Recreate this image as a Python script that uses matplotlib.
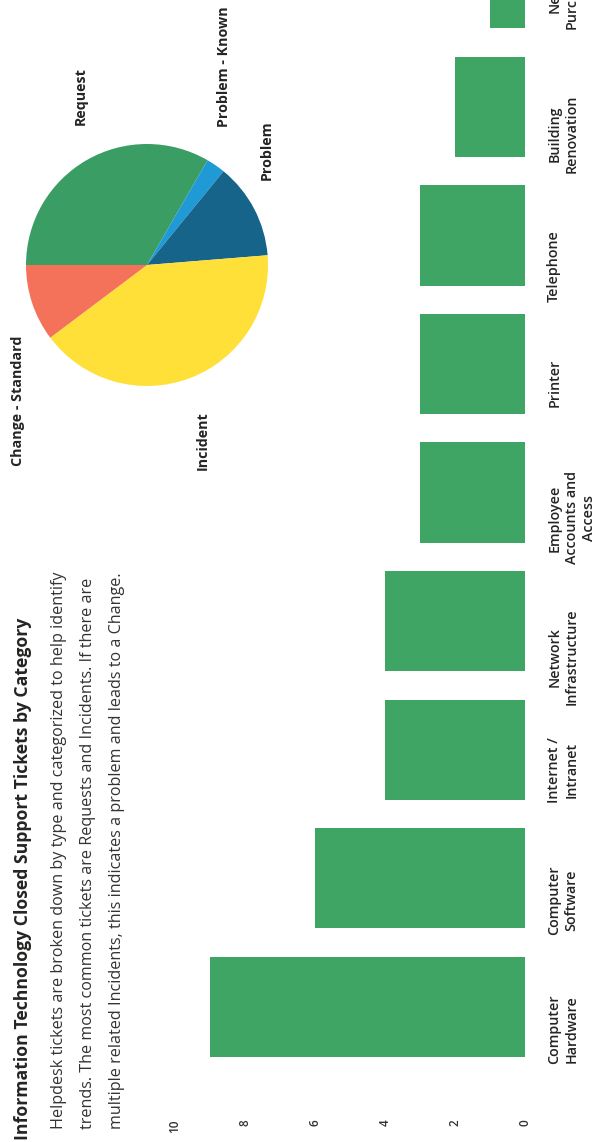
import numpy as np
import matplotlib
matplotlib.use("Agg")
import matplotlib.pyplot as plt

plt.rcParams['font.family'] = ['Open Sans', 'DejaVu Sans']

# bar chart data (closed tickets per category)
categories = ['Computer\nHardware', 'Computer\nSoftware', 'Internet /\nIntranet',
              'Network\nInfrastructure', 'Employee\nAccounts and\nAccess', 'Printer',
              'Telephone', 'Building\nRenovation', 'New\nPurchase']
tickets = [9, 6, 4, 4, 3, 3, 3, 2, 1]
value_ticks = [0, 2, 4, 6, 8, 10]

# pie chart data (tickets by type)
ticket_types = ['Request', 'Problem - Known', 'Problem', 'Incident', 'Change - Standard']
type_counts = [13, 1, 5, 16, 4]
type_colors = ['#3a9d63', '#1f9ad6', '#17648b', '#ffe038', '#f4715a']

title = 'Information Technology Closed Support Tickets by Category'
body = ['Helpdesk tickets are broken down by type and categorized to help identify',
        'trends. The most common tickets are Requests and Incidents. If there are',
        'multiple related Incidents, this indicates a problem and leads to a Change.']

W, H = 607, 1142
fig = plt.figure(figsize=(W / 100, H / 100), dpi=100)

def fx(px):
    return px / W

def fy(py):
    return 1 - py / H

# title + description (page is turned on its side)
fig.text(fx(23), fy(1140), title, rotation=90, ha='center', va='bottom',
         fontsize=12.7, fontweight='bold', color='#252423')
for i, line in enumerate(body):
    fig.text(fx(59 + 29 * i), fy(1129), line, rotation=90, ha='center', va='bottom',
             fontsize=11.6, color='#333333')

# bar chart, drawn sideways
ax = fig.add_axes([fx(175), fy(1075), fx(525) - fx(175), (1075 + 40) / H])
pos = np.arange(len(categories))
ax.barh(pos, tickets, height=0.78, color='#3ea564')
ax.set_xlim(10, 0)
ax.set_ylim(-0.53, (1007 + 40) / 128.6)
ax.set_xticks(value_ticks)
ax.set_xticklabels([str(v) for v in value_ticks])
ax.set_yticks(pos)
ax.set_yticklabels(categories)
ax.yaxis.tick_right()
ax.tick_params(axis='x', length=0, pad=32, labelrotation=90, labelsize=8.5, labelcolor='#333333')
ax.tick_params(axis='y', length=0, pad=16, labelrotation=90, labelsize=10.3, labelcolor='#252423')
for t in ax.get_yticklabels():
    t.set_multialignment('center')
    t.set_fontweight('semibold')
    t.set_linespacing(1.3)
for t in ax.get_xticklabels():
    t.set_fontweight('semibold')
for s in ax.spines.values():
    s.set_visible(False)

# pie chart
r = 121
cx, cy = 147, 265
pax = fig.add_axes([fx(cx - r), fy(cy + r), 2 * r / W, 2 * r / H])
wedges, _ = pax.pie(type_counts, colors=type_colors, startangle=180, counterclock=False,
                    wedgeprops=dict(linewidth=0))
label_pos = {'Request': (-0.55, 1.40), 'Problem - Known': (0.64, 1.64),
             'Problem': (0.99, 0.95), 'Incident': (0.46, -1.45),
             'Change - Standard': (-1.07, -1.12)}
for name in ticket_types:
    x, y = label_pos[name]
    pax.text(x, y, name, rotation=90, ha='center', va='center', fontsize=10.3,
             fontweight='bold', color='#252423')
pax.set_xlim(-1, 1)
pax.set_ylim(-1, 1)
pax.set_aspect('equal')
pax.axis('off')

fig.savefig('out.png', dpi=100)
